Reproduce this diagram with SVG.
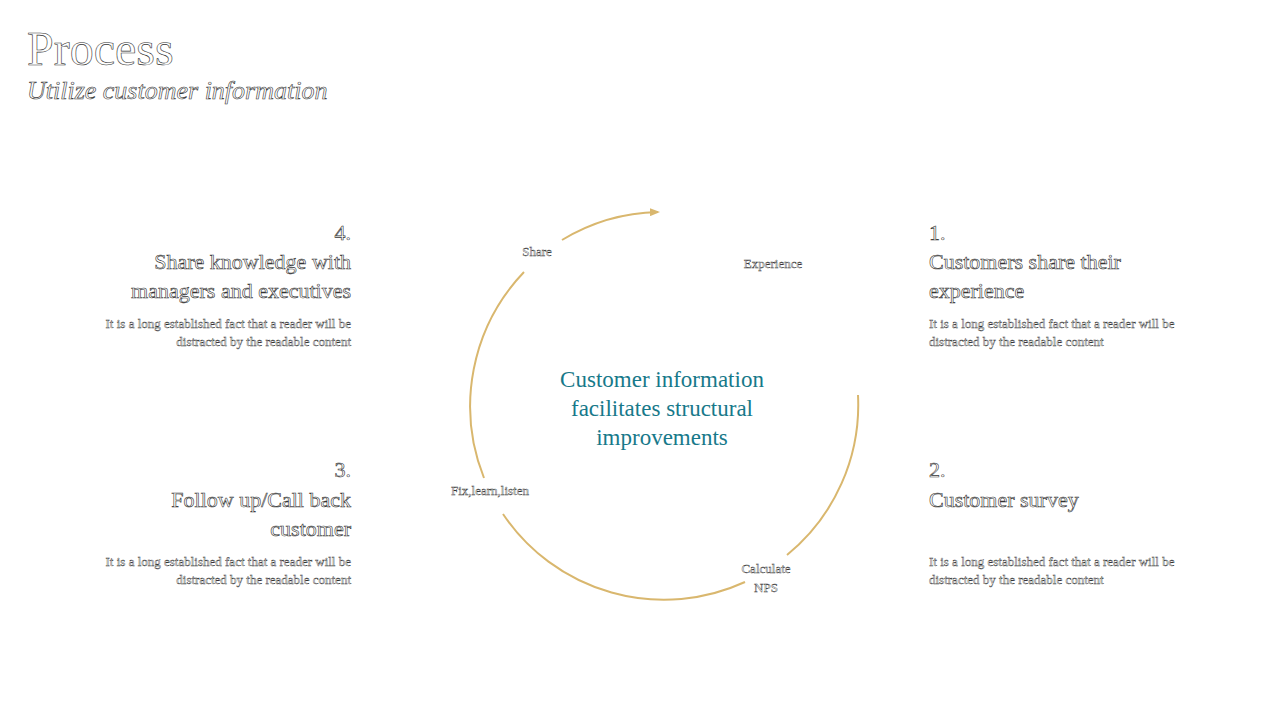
<svg xmlns="http://www.w3.org/2000/svg" width="1280" height="720" viewBox="0 0 1280 720">
<style>
.o{font-family:"Liberation Serif","DejaVu Serif",serif;fill:#fff;stroke:#333;stroke-width:0.6}
.h{font-size:22px}
.b{font-size:13px;stroke-width:0.4}
.l{font-size:13px;stroke-width:0.4}
.arc{fill:none;stroke:#d9b76e;stroke-width:2}
.c{font-family:"Liberation Serif","DejaVu Serif",serif;font-size:23px;fill:#17798a}
</style>
<defs><marker id="ah" markerWidth="10" markerHeight="8" refX="8" refY="4" orient="auto" markerUnits="userSpaceOnUse"><path d="M0,0 L10,4 L0,8Z" fill="#d9b76e"/></marker></defs>
<g id="title">
<text class="o" x="27" y="65" font-size="48" stroke-width="0.8">Process</text>
<text class="o" x="27" y="99" font-size="26" font-style="italic">Utilize customer information</text>
</g>
<g id="connectors">
<path class="arc" d="M562,240 A194,194 0 0 1 658,212" marker-end="url(#ah)"/>
<path class="arc" d="M524,272 A194,194 0 0 0 484,478"/>
<path class="arc" d="M503,514 A194,194 0 0 0 745,582"/>
<path class="arc" d="M787,555 A194,194 0 0 0 858,395"/>
</g>
<g id="center"><text class="c" text-anchor="middle"><tspan x="662" y="387">Customer information</tspan><tspan x="662" y="416">facilitates structural</tspan><tspan x="662" y="445">improvements</tspan></text></g>
<g id="labels">
<text class="o l" x="537" y="256" text-anchor="middle">Share</text>
<text class="o l" x="773" y="268" text-anchor="middle">Experience</text>
<text class="o l" x="490" y="495" text-anchor="middle">Fix,learn,listen</text>
<text class="o l" x="766" y="573" text-anchor="middle">Calculate</text>
<text class="o l" x="766" y="592" text-anchor="middle">NPS</text>
</g>
<g id="step1">
<text class="o h" x="929" y="240">1.</text>
<text class="o h" x="929" y="269">Customers share their</text>
<text class="o h" x="929" y="298">experience</text>
<text class="o b" x="929" y="328">It is a long established fact that a reader will be</text>
<text class="o b" x="929" y="346">distracted by the readable content</text>
</g>
<g id="step2">
<text class="o h" x="929" y="477">2.</text>
<text class="o h" x="929" y="507">Customer survey</text>
<text class="o b" x="929" y="566">It is a long established fact that a reader will be</text>
<text class="o b" x="929" y="584">distracted by the readable content</text>
</g>
<g id="step3" text-anchor="end">
<text class="o h" x="351" y="477">3.</text>
<text class="o h" x="351" y="507">Follow up/Call back</text>
<text class="o h" x="351" y="536">customer</text>
<text class="o b" x="351" y="566">It is a long established fact that a reader will be</text>
<text class="o b" x="351" y="584">distracted by the readable content</text>
</g>
<g id="step4" text-anchor="end">
<text class="o h" x="351" y="240">4.</text>
<text class="o h" x="351" y="269">Share knowledge with</text>
<text class="o h" x="351" y="298">managers and executives</text>
<text class="o b" x="351" y="328">It is a long established fact that a reader will be</text>
<text class="o b" x="351" y="346">distracted by the readable content</text>
</g>
</svg>
